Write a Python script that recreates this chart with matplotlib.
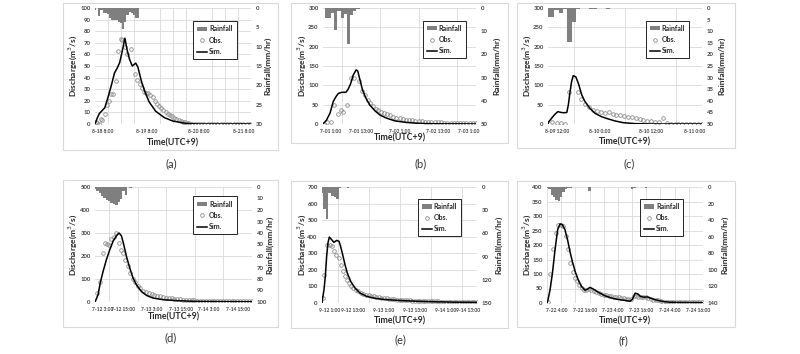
import matplotlib
matplotlib.use('Agg')
import matplotlib.pyplot as plt
from matplotlib.patches import Rectangle, Patch
from matplotlib.lines import Line2D
from matplotlib.ticker import MultipleLocator
from matplotlib.transforms import ScaledTranslation

plt.rcParams['font.family'] = ['Lato', 'DejaVu Sans']

# ---------------- data ----------------
# (a)
a_sim_t = [0, 1, 2, 3, 4.5, 6, 7.5, 9, 10.2, 11.4, 12.6, 13.8, 14.8, 15.9, 17.2, 18.8, 19.8, 21.4, 23, 25, 28, 32, 36, 42, 48, 72]
a_sim_q = [0, 5, 9, 11, 14, 23, 33, 44, 48, 53, 63, 74, 64, 56, 50, 52.5, 49, 37, 28, 19, 11, 5.5, 2.5, 0.5, 0, 0]
a_obs_t = [0.3, 1.0, 1.8, 2.6, 3.4, 4.6, 5.6, 6.4, 7.4, 8.4, 9.8, 10.8, 11.8, 12.6, 13.8, 14.6, 16.6, 18.6, 19.6, 20.6,
           21.6, 22.6, 23.6, 24.6, 25.6, 26.6, 27.6, 28.6, 29.6, 30.6, 31.6, 32.6, 33.6, 34.6, 35.6, 36.6, 37.6, 38.6,
           39.6, 40.6, 41.6, 42.6, 43.6, 44.6, 46, 47.5, 49, 50.5, 52, 53.5, 55, 56.5, 58, 59.5, 61, 62.5, 64, 65.5,
           67, 68.5, 70, 71.5]
a_obs_q = [1.5, 0.5, 0, 4.5, 3.5, 9, 16.5, 20, 26, 26, 37, 63, 73, 72, 66, 60, 64.5, 43, 38, 34.5,
           31, 28, 27, 27, 25, 23, 20, 17.5, 15.5, 13.5, 12, 10.5, 9, 7.8, 6.5, 5.4, 4.4, 3.5,
           2.7, 2, 1.4, 0.9, 0.5, 0.2, 0, 0, 0, 0, 0, 0, 0, 0, 0, 0, 0, 0, 0, 0,
           0, 0, 0, 0]
a_rain = [0.5, 0, 2.0, 0.5, 1.2, 1.2, 1.5, 2.5, 3.0, 3.2, 3.2, 3.5, 3.8, 5.5, 3.5, 1.8, 1.0, 1.2, 1.8, 2.5, 2.5]
a_ticks = [0, 24, 48, 72]
a_labels = ["8-18 8:00", "8-19 8:00", "8-20 8:00", "8-21 8:00"]

# (b)
b_sim_t = [0, 1.1, 2.2, 3.2, 4.1, 4.8, 5.9, 7.2, 7.9, 8.7, 9.5, 10.4, 10.9, 11.6, 12.4, 13.5, 14.7, 16.3, 17.9, 20, 22.6, 26.2, 30.4, 36, 48]
b_sim_q = [0, 10, 28, 58, 71, 79, 82, 82, 90, 105, 127, 140, 137, 114, 88, 66, 49, 34, 23, 15, 8, 4, 1.5, 0.5, 0]
b_obs_t = [0.3, 1.3, 2.4, 3.6, 4.8, 5.6, 6.4, 7.6, 8.8, 9.6,
           11.4, 12.3, 13.1, 14.0, 14.9, 15.8, 16.6, 17.4, 18.3, 19.1,
           20, 21, 22, 23, 24, 25, 26, 27, 28, 29, 30, 31, 32, 33, 34, 35, 36, 37, 38, 39, 40, 41, 42, 43, 44, 45, 46, 47, 48]
b_obs_q = [1, 6, 6, 48, 27, 36, 31, 48, 118, 120,
           110, 86, 75, 62, 54, 47, 40, 36, 32, 28,
           25, 22, 19, 16.5, 14.5, 13, 11.5, 10.3, 9.2, 8.3, 7.5, 6.8, 6.2, 5.6, 5.1, 4.7, 4.3, 4, 3.7, 3.4, 3.2, 3,
           2.8, 2.6, 2.4, 2.3, 2.2, 2.1, 2]
b_rain = [0, 4.5, 4.5, 2.0, 9.5, 1.5, 4.5, 2.5, 15.5, 3.0, 1.5, 0.5]
b_ticks = [0, 12, 24, 36, 48]
b_labels = ["7-01 1:00", "7-01 13:00", "7-02 1:00", "7-02 13:00", "7-03 1:00"]

# (c)
c_sim_t = [0, 0.2, 0.85, 1.6, 2.3, 3.0, 3.8, 4.4, 4.75, 5.1, 5.5, 5.9, 6.5, 7.1, 7.9, 8.65, 9.8, 11, 12.5, 14.1, 15.7, 17.6, 20.3, 24, 36]
c_sim_q = [0, 6, 15, 25, 32, 30, 29, 30, 49, 79, 109, 125, 122, 105, 75, 58, 40.5, 27.6, 19, 13, 7.8, 3.4, 1, 0, 0]
c_obs_t = [1.0, 2.0, 3.0, 4.0, 5.0, 6.9, 7.7, 8.6, 9.7, 10.6, 11.5, 12.4, 13.3, 14.2, 15.1, 16.0, 16.9, 17.8, 18.7,
           19.6, 20.5, 21.4, 22.3, 23.2, 24.1, 25.0, 26.0, 26.9, 27.8, 28.7, 29.6, 30.5, 31.4, 32.3, 33.2, 34.1, 35.0, 35.9]
c_obs_q = [6, 2, 3.5, 0, 83, 83, 65, 53, 44, 37, 33, 30, 28, 31, 27, 24, 22, 20, 18,
           17, 15, 13, 11, 9, 7, 6, 5, 15, 3, 1, 0, 0, 0, 0, 0, 0, 0, 0]
c_rain = [3.7, 3.7, 1.0, 2.0, 0.3, 14.5, 6.0, 0.3, 0, 0, 0.3, 0.3, 0, 0, 0.3]
c_ticks = [0, 12, 24, 36]
c_labels = ["8-09 12:00", "8-10 0:00", "8-10 12:00", "8-11 0:00"]

# (d)
d_sim_t = [0, 0.3, 1.3, 2.2, 3.4, 4.8, 6.2, 7.6, 9.0, 10.1, 11.1, 12.1, 13.2, 14.6, 16.0, 17.4, 19.5, 21.6, 24.4, 28.6, 34.2, 41.2, 50, 66]
d_sim_q = [0, 7, 32, 83, 133, 184, 227, 264, 288, 300, 288, 249, 199, 148, 104, 75, 46, 29, 17, 10, 6, 3, 2, 1]
d_obs_t = [0.8, 1.9, 3.4, 4.1, 5.0, 5.9, 6.9, 7.9, 8.9, 10.0, 10.9, 11.7, 12.7, 13.7, 14.8, 15.9, 16.9, 17.9, 19.0, 20.2,
           21.4, 22.6, 23.8, 25.0, 26.2, 27.4, 28.6, 29.8, 31.0, 32.2, 33.4, 34.6, 35.8, 37.0, 38.2, 39.4, 40.6, 41.8,
           43.0, 44.2, 45.4, 46.6, 47.8, 49.0, 50.2, 51.4, 52.6, 53.8, 55.0, 56.2, 57.4, 58.6, 59.8, 61.0, 62.2, 63.4,
           64.6, 65.8]
d_obs_q = [38, 89, 212, 258, 251, 249, 272, 281, 298, 255, 226, 212, 183, 158, 125, 99, 86, 70, 59, 48,
           42, 38, 33, 30, 27, 24, 22, 19.5, 17.5, 16, 14, 13, 11.5, 10.5, 9.5, 8.5, 7.5, 7,
           6.5, 6, 5.5, 5, 5, 4.5, 4.5, 4, 4, 4, 3.5, 3.5, 3.5, 3, 3, 3, 3, 3,
           3, 3]
d_rain = [1.7, 3.5, 5.5, 7.5, 9.5, 11.5, 12.5, 14, 15, 15.5, 13, 10, 3.5, 7, 0, 0.6]
d_ticks = [0, 12, 24, 36, 48, 60]
d_labels = ["7-12 3:00", "7-12 15:00", "7-13 3:00", "7-13 15:00", "7-14 3:00", "7-14 15:00"]

# (e)
e_sim_t = [0, 0.26, 0.77, 1.29, 1.8, 2.3, 2.84, 3.74, 4.6, 5.7, 6.6, 7.2, 8.0, 8.9, 9.8, 11.1, 12.8, 14.7, 17.3, 20.5, 25, 31.5, 38, 45, 52, 60]
e_sim_q = [0, 30, 80, 161, 282, 362, 398, 382, 366, 378, 372, 342, 292, 231, 181, 131, 90, 60, 40, 28, 20, 14, 10, 7, 5, 4]
e_obs_t = [0.3, 0.8, 1.8, 3.0, 4.0, 4.8, 5.6, 6.4, 7.2, 8.0, 8.8, 9.6, 10.4, 11.2, 12.0,
           13, 14, 15, 16, 17, 18, 19, 20, 21, 22, 23, 24, 25, 26, 27, 28, 29, 30, 31, 32, 33, 34, 35, 36, 37, 38,
           39, 40, 41, 42, 43, 44, 45, 46, 47, 48, 49, 50, 51, 52, 53, 54, 55, 56, 57, 58, 59, 60]
e_obs_q = [30, 170, 350, 352, 345, 315, 290, 272, 228, 195, 165, 140, 120, 105, 93,
           80, 70, 62, 56, 51, 47, 43, 40, 37, 35, 32, 30, 28, 26, 24, 22.5, 21, 20, 19, 18, 17, 16, 15, 14, 13.5, 13,
           12.5, 12, 11.5, 11, 10.5, 10, 9.5, 9, 8.8, 8.5, 8.2, 8, 7.8, 7.5, 7.2, 7, 6.8, 6.5, 6.3, 6, 6, 6]
e_rain = [8, 28, 42, 8, 11, 13, 15.5, 1.7, 0, 0, 0.8]
e_ticks = [0, 12, 24, 36, 48, 60]
e_labels = ["9-12 1:00", "9-12 13:00", "9-13 1:00", "9-13 13:00", "9-14 1:00", "9-14 13:00"]

# (f)
f_sim_t = [0, 0.3, 1.3, 2.3, 3.4, 4.5, 5.5, 6.5, 7.6, 8.7, 9.7, 10.7, 11.9, 13.2, 14.6, 16.1, 17.2, 18.2, 19.6, 21.7,
           24.5, 27.4, 30.1, 33, 35.2, 36.2, 37.3, 38.5, 39.5, 40.9, 42.4, 43.7, 45.9, 48.6, 51.5, 55, 60.5, 66]
f_sim_q = [0, 6, 46, 103, 184, 253, 273, 270, 253, 218, 178, 144, 109, 80, 57, 44, 48, 54, 48, 37,
           25, 17, 12, 9, 6, 14, 34, 31, 23, 20, 21, 17, 11, 6, 3, 2, 1.5, 1]
f_obs_t = [0.3, 1.4, 2.6, 3.6, 4.5, 5.9, 6.9, 7.9, 9.0, 9.8, 10.8, 11.9, 12.5, 13.6, 14.6, 15.7, 16.7, 17.8, 18.8, 19.9,
           20.9, 22.0, 23.0, 24.1, 25.1, 26.2, 27.2, 28.3, 29.3, 30.3, 31.4, 32.5, 33.4, 34.4, 35.5, 36.7, 37.6, 38.6,
           39.7, 40.8, 41.8, 42.8, 43.9, 45.0, 46.0, 47.0, 48.1, 49.1, 50.2, 51.3, 52.4, 53.5, 54.6, 55.7, 56.8, 57.9,
           59.0, 60.1, 61.2, 62.3, 63.4, 64.5, 65.6]
f_obs_q = [3, 100, 186, 240, 270, 270, 266, 232, 186, 138, 106, 86, 75, 63, 52, 44, 46, 48, 44, 40,
           37, 34, 31, 29, 26, 25, 23, 21, 20, 19, 17, 16, 15, 15, 14, 23, 25, 21,
           20, 20, 19, 16, 14, 11, 10, 9, 6, 5, 4, 3.5, 3, 3, 3, 2.5, 2.5, 2.5,
           2.5, 2, 2, 2, 2, 2, 2]
f_rain = [1, 2, 9.5, 12, 16, 17, 12, 6, 3, 1.5,
          1, 0, 0, 0, 0, 0, 0, 0, 4.8, 0,
          0, 0, 0, 0, 0, 0, 0, 0, 0, 0,
          0, 0, 0, 0, 0, 0, 3, 1.5, 0, 0,
          0, 0, 1.5]
f_ticks = [4, 16, 28, 40, 52, 64]
f_labels = ["7-22 4:00", "7-22 16:00", "7-23 4:00", "7-23 16:00", "7-24 4:00", "7-24 16:00"]

# ---------------- layout / style ----------------
W, H = 800, 354
DPI = 100
fig = plt.figure(figsize=(W / DPI, H / DPI), dpi=DPI)


def fr(x0, y0, x1, y1):
    return [x0 / W, 1 - y1 / H, (x1 - x0) / W, (y1 - y0) / H]


RAIN_C = '#7f7f7f'
OBS_C = '#8c8c8c'
TICK_C = '#404040'
LAB_C = '#262626'
GRID_C = '#d9d9d9'

panels = [
    dict(sim=(a_sim_t, a_sim_q), obs=(a_obs_t, a_obs_q), rain=a_rain, ticks=a_ticks, labels=a_labels,
         xmax=72, qmax=100, qstep=10, rmax=30, rstep=5,
         box=(95, 8, 251, 124), frame=(63, 3, 278, 150), leg=(0.93, 0.915),
         ydl=22, ydr=17, xd=19, cap='(a)', cap_xy=(171, 164)),
    dict(sim=(b_sim_t, b_sim_q), obs=(b_obs_t, b_obs_q), rain=b_rain, ticks=b_ticks, labels=b_labels,
         xmax=48, qmax=300, qstep=50, rmax=50, rstep=10,
         box=(323, 8, 476, 124), frame=(291, 3, 508, 143), leg=(0.96, 0.922),
         ydl=21, ydr=21, xd=14, cap='(b)', cap_xy=(421, 164)),
    dict(sim=(c_sim_t, c_sim_q), obs=(c_obs_t, c_obs_q), rain=c_rain, ticks=c_ticks, labels=c_labels,
         xmax=36, qmax=300, qstep=50, rmax=50, rstep=5,
         box=(548, 8, 702, 124), frame=(517, 3, 735, 148), leg=(0.94, 0.922),
         ydl=21, ydr=20, xd=18, cap='(c)', cap_xy=(629, 164)),
    dict(sim=(d_sim_t, d_sim_q), obs=(d_obs_t, d_obs_q), rain=d_rain, ticks=d_ticks, labels=d_labels,
         xmax=66, qmax=500, qstep=100, rmax=100, rstep=10,
         box=(95, 187, 252, 302), frame=(63, 180, 278, 327), leg=(0.924, 0.948),
         ydl=22, ydr=18, xd=15, cap='(d)', cap_xy=(171, 338)),
    dict(sim=(e_sim_t, e_sim_q), obs=(e_obs_t, e_obs_q), rain=e_rain, ticks=e_ticks, labels=e_labels,
         xmax=60, qmax=700, qstep=100, rmax=150, rstep=30,
         box=(322, 187, 477, 303), frame=(291, 181, 508, 328), leg=(0.92, 0.93),
         ydl=20, ydr=22, xd=18, cap='(e)', cap_xy=(400, 340)),
    dict(sim=(f_sim_t, f_sim_q), obs=(f_obs_t, f_obs_q), rain=f_rain, ticks=f_ticks, labels=f_labels,
         xmax=66, qmax=400, qstep=50, rmax=140, rstep=20,
         box=(547, 187, 703, 303), frame=(517, 181, 735, 327), leg=(0.897, 0.93),
         ydl=20, ydr=22, xd=18, cap='(f)', cap_xy=(623, 341)),
]

for p in panels:
    fx0, fy0, fx1, fy1 = p['frame']
    fig.patches.append(Rectangle((fx0 / W, 1 - fy1 / H), (fx1 - fx0) / W, (fy1 - fy0) / H,
                                 transform=fig.transFigure, fill=False, edgecolor=GRID_C, lw=0.8))
    x0, y0, x1, y1 = p['box']
    pw, ph = x1 - x0, y1 - y0
    ax = fig.add_axes(fr(*p['box']))
    ax2 = ax.twinx()

    # discharge
    ax.plot(p['sim'][0], p['sim'][1], color='black', lw=1.1, zorder=3)
    ax.plot(p['obs'][0], p['obs'][1], ls='none', marker='o', ms=2.6, mfc='none', mec=OBS_C, mew=0.6, zorder=2)
    ax.set_xlim(0, p['xmax'])
    ax.set_ylim(0, p['qmax'])
    ax.yaxis.set_major_locator(MultipleLocator(p['qstep']))
    ax.set_xticks(p['ticks'])
    ax.set_xticklabels(p['labels'])
    ax.xaxis.set_minor_locator(MultipleLocator(6))
    ax.grid(True, which='major', axis='y', color=GRID_C, lw=0.6)
    ax.grid(True, which='minor', axis='x', color=GRID_C, lw=0.6)
    ax.set_axisbelow(True)
    ax.tick_params(which='both', length=0, colors=TICK_C)
    ax.tick_params(axis='y', labelsize=4.3, pad=3.2)
    ax.tick_params(axis='x', labelsize=3.5, pad=3.3)
    for t in ax.get_yticklabels():
        t.set_fontweight('bold')
    xl = ax.get_xticklabels()
    for t in xl:
        t.set_fontweight('bold')
    if p['ticks'][0] == 0:
        xl[0].set_ha('left')
        xl[0].set_transform(xl[0].get_transform() + ScaledTranslation(-3 / DPI, 0, fig.dpi_scale_trans))
    if p['ticks'][-1] == p['xmax']:
        xl[-1].set_ha('right')
        xl[-1].set_transform(xl[-1].get_transform() + ScaledTranslation(3 / DPI, 0, fig.dpi_scale_trans))

    # rainfall
    ax2.bar(range(len(p['rain'])), p['rain'], width=1.0, align='center', color=RAIN_C, lw=0, zorder=1)
    ax2.set_ylim(p['rmax'], 0)
    ax2.yaxis.set_major_locator(MultipleLocator(p['rstep']))
    ax2.set_xlim(0, p['xmax'])
    ax2.tick_params(axis='y', length=0, labelsize=4.3, colors=TICK_C, pad=3.5)
    for t in ax2.get_yticklabels():
        t.set_fontweight('bold')

    for a in (ax, ax2):
        for s in a.spines.values():
            s.set_visible(False)

    ax.set_ylabel('Discharge(m$^3$/s)', fontsize=6, fontweight='bold', color=LAB_C)
    ax.yaxis.set_label_coords(-p['ydl'] / pw, 0.5)
    ax.yaxis.label.set_va('center')
    ax2.set_ylabel('Rainfall(mm/hr)', fontsize=6, fontweight='bold', color=LAB_C, rotation=90)
    ax2.yaxis.set_label_coords(1 + p['ydr'] / pw, 0.5)
    ax2.yaxis.label.set_va('center')
    ax.set_xlabel('Time(UTC+9)', fontsize=6.3, fontweight='bold', color=LAB_C)
    ax.xaxis.set_label_coords(0.5, -p['xd'] / ph)
    ax.xaxis.label.set_va('center')

    handles = [Patch(facecolor=RAIN_C, edgecolor='none', label='Rainfall'),
               Line2D([], [], ls='none', marker='o', ms=2.6, mfc='none', mec=OBS_C, mew=0.6, label='Obs.'),
               Line2D([], [], color='black', lw=1.1, label='Sim.')]
    leg = ax2.legend(handles=handles, loc='upper right', bbox_to_anchor=p['leg'], fontsize=5,
                     frameon=True, fancybox=False, framealpha=1, edgecolor='black',
                     borderpad=0.6, handlelength=1.4, handleheight=0.6, labelspacing=0.6, handletextpad=0.3)
    leg.get_frame().set_linewidth(0.6)
    for t in leg.get_texts():
        t.set_fontweight('bold')
        t.set_color(LAB_C)

    fig.text(p['cap_xy'][0] / W, 1 - p['cap_xy'][1] / H, p['cap'], fontsize=8, ha='center', va='center', color='#333333')

fig.savefig('out.png', dpi=DPI)
